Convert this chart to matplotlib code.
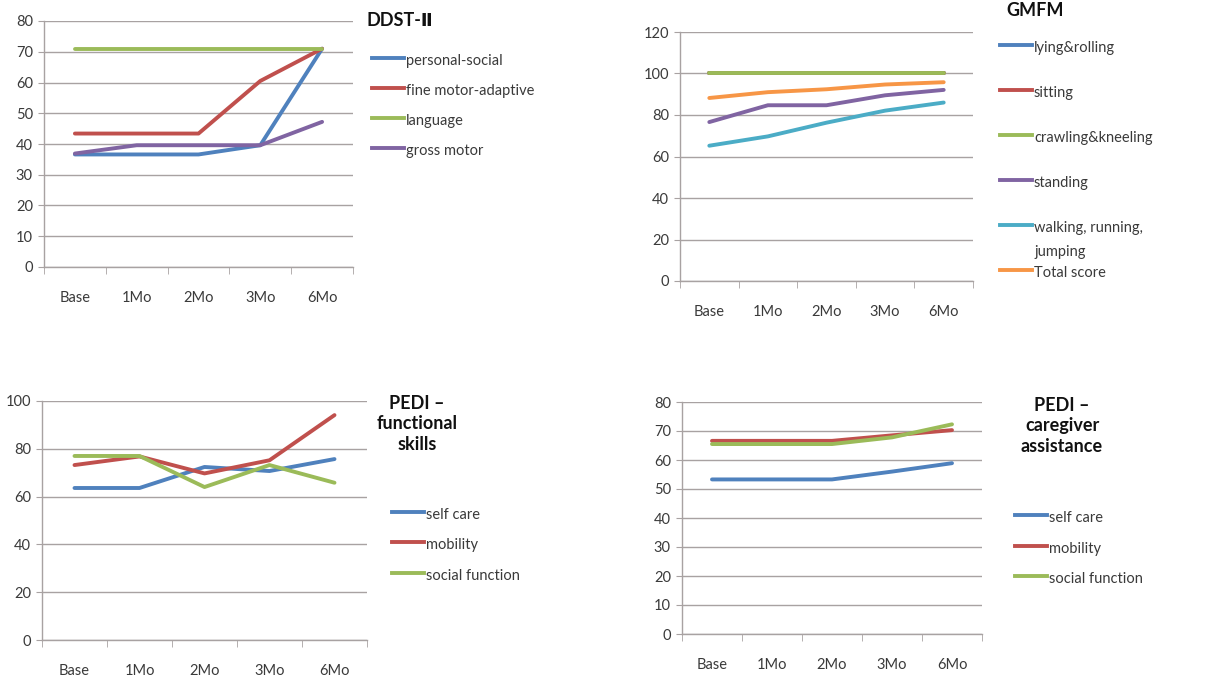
import matplotlib
matplotlib.use("Agg")
import matplotlib.pyplot as plt
from matplotlib.lines import Line2D

plt.rcParams['font.family'] = ['Lato', 'DejaVu Sans']

categories = ["Base", "1Mo", "2Mo", "3Mo", "6Mo"]

# DDST-II
ddst_names = ["personal-social", "fine motor-adaptive", "language", "gross motor"]
ddst_personal_social = [36.6, 36.6, 36.6, 39.6, 71.0]
ddst_fine_motor = [43.4, 43.4, 43.4, 60.5, 71.0]
ddst_language = [71.0, 71.0, 71.0, 71.0, 71.0]
ddst_gross_motor = [36.9, 39.6, 39.6, 39.6, 47.2]

# GMFM
gmfm_names = ["lying&rolling", "sitting", "crawling&kneeling", "standing",
              "walking, running,\njumping", "Total score"]
gmfm_lying = [100, 100, 100, 100, 100]
gmfm_sitting = [100, 100, 100, 100, 100]
gmfm_crawling = [100, 100, 100, 100, 100]
gmfm_standing = [76.6, 84.7, 84.7, 89.5, 92.1]
gmfm_walking = [65.2, 69.7, 76.3, 82.1, 86.0]
gmfm_total = [88.2, 91.0, 92.4, 94.7, 95.8]

# PEDI functional skills
pedi_names = ["self care", "mobility", "social function"]
pf_self_care = [63.6, 63.6, 72.4, 70.7, 75.7]
pf_mobility = [73.2, 76.8, 69.7, 75.2, 94.1]
pf_social = [77.0, 77.0, 64.0, 73.2, 65.8]

# PEDI caregiver assistance
pc_self_care = [53.3, 53.3, 53.3, 56.0, 58.9]
pc_mobility = [66.6, 66.6, 66.6, 68.5, 70.3]
pc_social = [65.5, 65.5, 65.5, 67.8, 72.3]

BLUE, RED, GREEN, PURPLE, AQUA, ORANGE = ("#4F81BD", "#C0504D", "#9BBB59",
                                          "#8064A2", "#4BACC6", "#F79646")
GRID = "#A8A2A2"
TXT = "#3A3A3A"
FS = 10.5
W, H = 1229, 681

fig = plt.figure(figsize=(W / 100, H / 100), dpi=100)


def px_axes(left, top, right, bottom):
    return fig.add_axes([left / W, 1 - bottom / H, (right - left) / W, (bottom - top) / H])


def style(ax, ymax, ystep, xlab_pad=17):
    ax.set_xlim(-0.5, len(categories) - 0.5)
    ax.set_ylim(0, ymax)
    ax.set_yticks(range(0, ymax + 1, ystep))
    ax.set_xticks(range(len(categories)))
    ax.set_xticklabels(categories)
    ax.set_xticks([i - 0.5 for i in range(len(categories) + 1)], minor=True)
    ax.tick_params(axis='x', which='major', length=0, pad=xlab_pad, labelsize=FS, colors=TXT)
    ax.tick_params(axis='x', which='minor', length=5, color=GRID, direction='out')
    ax.tick_params(axis='y', length=4, color=GRID, labelsize=FS, colors=TXT, pad=4)
    ax.grid(axis='y', color=GRID, lw=1.0)
    ax.set_axisbelow(True)
    for s in ('top', 'right'):
        ax.spines[s].set_visible(False)
    for s in ('left', 'bottom'):
        ax.spines[s].set_color(GRID)
        ax.spines[s].set_linewidth(1.0)


def legend(names, colors, x0, ys, dy=3):
    for name, c, y in zip(names, colors, ys):
        fig.add_artist(Line2D([x0 / W, (x0 + 32) / W], [1 - y / H, 1 - y / H], color=c, lw=2.8))
        lines = name.split('\n')
        for k, part in enumerate(lines):
            fig.text((x0 + 34) / W, 1 - (y + dy + 24 * k) / H, part, fontsize=FS, color=TXT,
                     va='center')


LW = 2.8
TFS = 13
x = range(len(categories))

# Panel 1
ax1 = px_axes(44, 21, 353, 267)
style(ax1, 80, 10)
for vals, c in zip([ddst_personal_social, ddst_fine_motor, ddst_language, ddst_gross_motor],
                   [BLUE, RED, GREEN, PURPLE]):
    ax1.plot(x, vals, color=c, lw=LW, solid_capstyle='round')
fig.text(367 / W, 1 - 21 / H, "DDST-Ⅱ", fontsize=TFS, fontweight='bold', va='center', color='#111111')
legend(ddst_names, [BLUE, RED, GREEN, PURPLE], 372, [58, 88, 118, 148])

# Panel 2
ax2 = px_axes(680, 32, 973, 281)
style(ax2, 120, 20)
for vals, c in zip([gmfm_lying, gmfm_sitting, gmfm_crawling, gmfm_standing, gmfm_walking, gmfm_total],
                   [BLUE, RED, GREEN, PURPLE, AQUA, ORANGE]):
    ax2.plot(x, vals, color=c, lw=LW, solid_capstyle='round')
fig.text(1035 / W, 1 - 10 / H, "GMFM", fontsize=TFS, fontweight='bold', va='center', ha='center',
         color='#111111')
legend(gmfm_names, [BLUE, RED, GREEN, PURPLE, AQUA, ORANGE], 1000, [45, 90, 135, 180, 225, 270])

# Panel 3
ax3 = px_axes(42, 401, 367, 640)
style(ax3, 100, 20)
for vals, c in zip([pf_self_care, pf_mobility, pf_social], [BLUE, RED, GREEN]):
    ax3.plot(x, vals, color=c, lw=LW, solid_capstyle='round')
fig.text(417 / W, 1 - 424 / H, "PEDI –\nfunctional\nskills", fontsize=TFS, fontweight='bold',
         va='center', ha='center', linespacing=1.28, color='#111111')
legend(pedi_names, [BLUE, RED, GREEN], 392, [512, 542, 573])

# Panel 4
ax4 = px_axes(682, 402, 982, 634)
style(ax4, 80, 10)
for vals, c in zip([pc_self_care, pc_mobility, pc_social], [BLUE, RED, GREEN]):
    ax4.plot(x, vals, color=c, lw=LW, solid_capstyle='round')
fig.text(1062 / W, 1 - 426 / H, "PEDI –\ncaregiver\nassistance", fontsize=TFS, fontweight='bold',
         va='center', ha='center', linespacing=1.28, color='#111111')
legend(pedi_names, [BLUE, RED, GREEN], 1015, [515, 546, 576])

fig.savefig("out.png", dpi=100, facecolor='white')
